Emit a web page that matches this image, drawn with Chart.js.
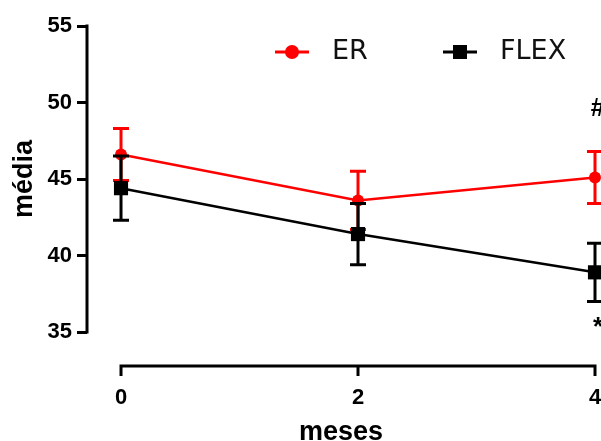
<!DOCTYPE html>
<html><head><meta charset="utf-8">
<script src="https://cdn.jsdelivr.net/npm/chart.js@4/dist/chart.umd.min.js"></script>
<style>html,body{margin:0;padding:0;background:#fff;overflow:hidden;} canvas{display:block;}</style>
</head><body>
<canvas id="c" width="601" height="441"></canvas>
<script>
const months = [0, 2, 4];
const erMeans = [46.6, 43.6, 45.1];
const erErrors = [1.7, 1.9, 1.7];
const flexMeans = [44.4, 41.4, 38.9];
const flexErrors = [2.1, 2.0, 1.9];
const yTicks = [35, 40, 45, 50, 55];
const xTicks = [0, 2, 4];
const seriesNames = ['ER', 'FLEX'];
const seriesColors = ['#ff0000', '#000000'];
const markText = ['#', '*'];
const markMonth = [4, 4];
const markValue = [49.6, 35.3];

const FONT = "'Liberation Sans', Arial, sans-serif";
const X_AXIS_GAP = 34;

const errorBars = {
  id: 'errorBars',
  beforeDatasetDraw(chart, args) {
    const ds = chart.data.datasets[args.index];
    const ys = chart.scales.y;
    const ctx = chart.ctx;
    ctx.save();
    ctx.strokeStyle = ds.borderColor;
    ctx.lineWidth = 3;
    args.meta.data.forEach((pt, i) => {
      const v = ds.data[i].y, e = ds.errors[i];
      const x = pt.x;
      const yt = ys.getPixelForValue(v + e), yb = ys.getPixelForValue(v - e);
      ctx.beginPath();
      ctx.moveTo(x, yt); ctx.lineTo(x, yb);
      ctx.moveTo(x - 8, yt); ctx.lineTo(x + 8, yt);
      ctx.moveTo(x - 8, yb); ctx.lineTo(x + 8, yb);
      ctx.stroke();
    });
    ctx.restore();
  }
};

const axesLines = {
  id: 'axesLines',
  afterDraw(chart) {
    const {ctx, chartArea, scales} = chart;
    ctx.save();
    ctx.strokeStyle = '#000';
    ctx.lineWidth = 3;
    ctx.lineCap = 'square';
    const yTop = scales.y.getPixelForValue(yTicks[yTicks.length - 1]);
    const yBot = scales.y.getPixelForValue(yTicks[0]);
    ctx.beginPath();
    ctx.moveTo(chartArea.left, yTop); ctx.lineTo(chartArea.left, yBot);
    ctx.stroke();
    const x0 = scales.x.getPixelForValue(xTicks[0]);
    const x1 = scales.x.getPixelForValue(xTicks[xTicks.length - 1]);
    const yb = chartArea.bottom + X_AXIS_GAP;
    ctx.lineCap = 'butt';
    ctx.beginPath();
    ctx.moveTo(x0 - 1.5, yb); ctx.lineTo(x1 + 1.5, yb);
    xTicks.forEach(v => {
      const px = scales.x.getPixelForValue(v);
      ctx.moveTo(px, yb); ctx.lineTo(px, yb + 10);
    });
    ctx.stroke();
    ctx.restore();
  }
};

const customLegend = {
  id: 'customLegend',
  afterDraw(chart) {
    const ctx = chart.ctx;
    const items = [
      {mx: 292, tx: 332, style: 'circle'},
      {mx: 460, tx: 500, style: 'rect'}
    ];
    const cy = 52;
    ctx.save();
    items.forEach((it, i) => {
      const col = seriesColors[i];
      ctx.strokeStyle = col; ctx.fillStyle = col; ctx.lineWidth = 3;
      ctx.beginPath(); ctx.moveTo(it.mx - 17, cy); ctx.lineTo(it.mx + 17, cy); ctx.stroke();
      if (it.style === 'circle') {
        ctx.beginPath(); ctx.arc(it.mx, cy, 7, 0, Math.PI * 2); ctx.fill();
      } else {
        ctx.fillRect(it.mx - 7, cy - 7, 14, 14);
      }
      ctx.fillStyle = '#111';
      ctx.font = "27px 'DejaVu Sans', sans-serif";
      ctx.textBaseline = 'middle';
      ctx.textAlign = 'left';
      ctx.fillText(seriesNames[i], it.tx, cy);
    });
    ctx.restore();
  }
};

const marks = {
  id: 'marks',
  afterDraw(chart) {
    const {ctx, scales} = chart;
    ctx.save();
    ctx.fillStyle = '#000';
    ctx.font = "bold 26px " + FONT;
    ctx.textAlign = 'center';
    ctx.textBaseline = 'middle';
    markText.forEach((t, i) => {
      ctx.fillText(t, scales.x.getPixelForValue(markMonth[i]) + 3, scales.y.getPixelForValue(markValue[i]));
    });
    ctx.restore();
  }
};

new Chart(document.getElementById('c'), {
  type: 'line',
  data: {
    datasets: [
      {label: seriesNames[0], data: months.map((m, i) => ({x: m, y: erMeans[i]})), errors: erErrors,
       borderColor: seriesColors[0], backgroundColor: seriesColors[0], borderWidth: 2.5,
       pointStyle: 'circle', pointRadius: 6, pointBorderWidth: 0, order: 1, clip: false},
      {label: seriesNames[1], data: months.map((m, i) => ({x: m, y: flexMeans[i]})), errors: flexErrors,
       borderColor: seriesColors[1], backgroundColor: seriesColors[1], borderWidth: 2.5,
       pointStyle: 'rect', pointRadius: 10, pointBorderWidth: 0, order: 0, clip: false}
    ]
  },
  options: {
    responsive: false, animation: false, devicePixelRatio: 1,
    layout: {autoPadding: false, padding: {top: 26, right: 6, left: 0, bottom: 0}},
    plugins: {legend: {display: false}, tooltip: {enabled: false}},
    scales: {
      x: {
        type: 'linear', min: -0.287, max: 4,
        afterBuildTicks: s => { s.ticks = xTicks.map(v => ({value: v})); },
        afterFit: s => { s.height = 109; s.paddingLeft = 0; s.paddingRight = 0; },
        grid: {display: false}, border: {display: false},
        ticks: {padding: 45, color: '#000', font: {family: FONT, size: 22, weight: 'bold'}, maxRotation: 0},
        title: {display: true, text: 'meses', color: '#000', padding: 0,
                font: {family: FONT, size: 27, weight: 'bold', lineHeight: 0.65}}
      },
      y: {
        min: 35, max: 55,
        afterBuildTicks: s => { s.ticks = yTicks.map(v => ({value: v})); },
        afterFit: s => { s.width = 87; },
        grid: {drawOnChartArea: false, drawTicks: true, tickLength: 10, lineWidth: 3, color: '#000'},
        border: {display: false},
        ticks: {padding: 5, color: '#000', font: {family: FONT, size: 22, weight: 'bold'}},
        title: {display: true, text: 'média', color: '#000', padding: {top: 11},
                font: {family: FONT, size: 27, weight: 'bold', lineHeight: 1}}
      }
    }
  },
  plugins: [errorBars, axesLines, customLegend, marks]
});
</script>
</body></html>
